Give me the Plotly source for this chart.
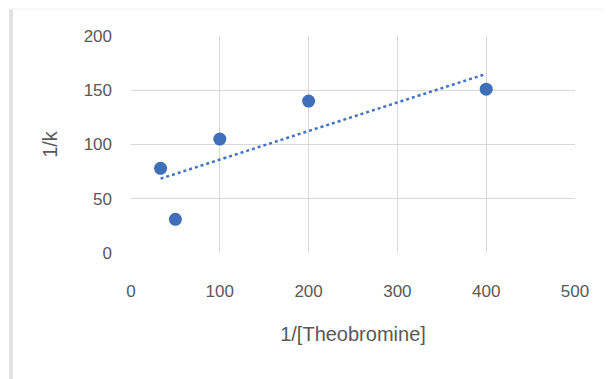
import plotly.graph_objects as go

x_vals = [33.3, 50, 100, 200, 400]
y_vals = [78, 31, 105, 140, 151]
x_ticks = [0, 100, 200, 300, 400, 500]
y_ticks = [0, 50, 100, 150, 200]

# linear trendline (least squares) over the data range
n = len(x_vals)
mx = sum(x_vals) / n
my = sum(y_vals) / n
slope = sum((a - mx) * (b - my) for a, b in zip(x_vals, y_vals)) / sum((a - mx) ** 2 for a in x_vals)
icpt = my - slope * mx
tx = [min(x_vals), max(x_vals)]
ty = [icpt + slope * v for v in tx]

fig = go.Figure()
fig.add_trace(go.Scatter(x=tx, y=ty, mode="lines",
                         line=dict(color="#4472C4", width=2.5, dash="dot"),
                         hoverinfo="skip", showlegend=False))
fig.add_trace(go.Scatter(x=x_vals, y=y_vals, mode="markers",
                         marker=dict(color="#3F6FB8", size=13),
                         showlegend=False))

font_family = "Liberation Sans, Arial, sans-serif"
grey = "#595959"
fig.update_layout(
    width=602, height=371,
    margin=dict(l=123, r=35, t=28, b=126),
    paper_bgcolor="white", plot_bgcolor="white",
    font=dict(family=font_family, color=grey, size=17),
    xaxis=dict(range=[0, 500], tickvals=x_ticks, showgrid=True, gridcolor="#D9D9D9",
               zeroline=False, showline=False, ticks="", ticklabelstandoff=26,
               tickfont=dict(size=17, color=grey),
               title=dict(text="1/[Theobromine]", font=dict(size=20, color=grey), standoff=26)),
    yaxis=dict(range=[0, 200], tickvals=y_ticks, showgrid=True, gridcolor="#D9D9D9",
               zeroline=False, showline=False, ticks="", ticklabelstandoff=18,
               tickfont=dict(size=17, color=grey),
               title=dict(text="1/k", font=dict(size=20, color=grey), standoff=20)),
    shapes=[
        dict(type="line", xref="paper", yref="paper", x0=-0.2703, x1=-0.2703,
             y0=-0.60, y1=1.1244, line=dict(color="#E2E2E2", width=4)),
        dict(type="line", xref="paper", yref="paper", x0=-0.2703, x1=1.0743,
             y0=1.1244, y1=1.1244, line=dict(color="#F0F0F0", width=1)),
    ],
)

fig.write_html("out.html")
